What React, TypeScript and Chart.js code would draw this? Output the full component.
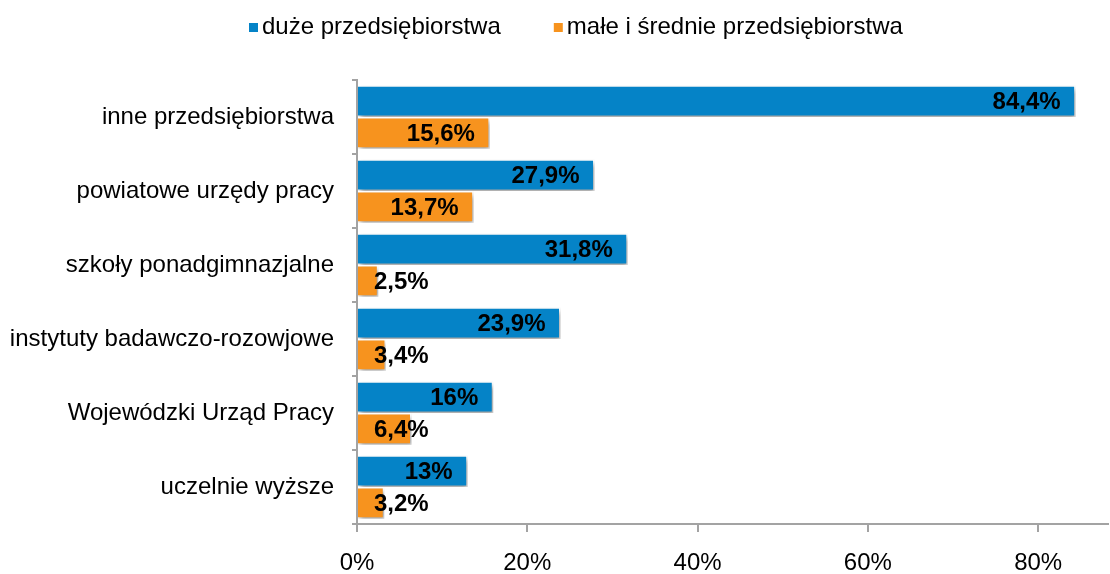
import React, { useEffect, useRef } from 'react';
import { Chart, registerables } from 'chart.js';

Chart.register(...registerables);

const categories = [
  'inne przedsiębiorstwa',
  'powiatowe urzędy pracy',
  'szkoły ponadgimnazjalne',
  'instytuty badawczo-rozowjowe',
  'Wojewódzki Urząd Pracy',
  'uczelnie wyższe',
];
const seriesNames = ['duże przedsiębiorstwa', 'małe i średnie przedsiębiorstwa'];
const largeValues = [84.4, 27.9, 31.8, 23.9, 16, 13];
const smeValues = [15.6, 13.7, 2.5, 3.4, 6.4, 3.2];
const xTickValues = [0, 20, 40, 60, 80];
const xMax = 88.2;

const BLUE = '#0583C7';
const ORANGE = '#F7931E';
const AXIS = '#a3a3a3';
const FONT = '"Liberation Sans", Arial, sans-serif';

const fmt = (v: number) => String(v).replace('.', ',') + '%';

const effectsPlugin = {
  id: 'effects',
  beforeDatasetsDraw(chart: any) {
    const ctx = chart.ctx;
    ctx.save();
    ctx.shadowColor = 'rgba(0,0,0,0.4)';
    ctx.shadowBlur = 5;
    ctx.shadowOffsetX = 2;
    ctx.shadowOffsetY = 3;
  },
  afterDatasetsDraw(chart: any) {
    const ctx = chart.ctx;
    ctx.restore();
    ctx.save();
    ctx.font = `bold 24px ${FONT}`;
    ctx.fillStyle = '#000';
    ctx.textBaseline = 'middle';
    chart.data.datasets.forEach((ds: any, di: number) => {
      const meta = chart.getDatasetMeta(di);
      meta.data.forEach((bar: any, i: number) => {
        const text = fmt(ds.data[i]);
        const w = ctx.measureText(text).width;
        const len = bar.x - bar.base;
        if (w + 30 <= len) {
          ctx.textAlign = 'right';
          ctx.fillText(text, bar.x - 15, bar.y + 1);
        } else {
          ctx.textAlign = 'left';
          ctx.fillText(text, bar.base + 16, bar.y + 1);
        }
      });
    });
    ctx.restore();
  },
  afterDraw(chart: any) {
    const ctx = chart.ctx;
    ctx.save();
    ctx.font = `24px ${FONT}`;
    ctx.fillStyle = '#000';
    ctx.textBaseline = 'middle';
    ctx.textAlign = 'left';
    const colors = [BLUE, ORANGE];
    let x = 249;
    const cy = 27;
    seriesNames.forEach((name, i) => {
      ctx.fillStyle = colors[i];
      ctx.fillRect(x, cy - 4, 9, 9);
      x += 13;
      ctx.fillStyle = '#000';
      ctx.fillText(name, x, cy);
      x += ctx.measureText(name).width + 53;
    });
    ctx.restore();
  },
};

export default function App() {
  const ref = useRef<HTMLCanvasElement>(null);
  useEffect(() => {
    const chart = new Chart(ref.current as HTMLCanvasElement, {
      type: 'bar',
      data: {
        labels: categories,
        datasets: [
          {
            label: seriesNames[0],
            data: largeValues,
            backgroundColor: BLUE,
            borderColor: '#ffffff',
            borderWidth: 1.5,
            categoryPercentage: 0.86,
            barPercentage: 1,
          },
          {
            label: seriesNames[1],
            data: smeValues,
            backgroundColor: ORANGE,
            borderColor: '#ffffff',
            borderWidth: 1.5,
            categoryPercentage: 0.86,
            barPercentage: 1,
          },
        ],
      },
      options: {
        indexAxis: 'y',
        responsive: false,
        animation: false,
        layout: { padding: { top: 80, right: 2, left: 0, bottom: 0 } },
        plugins: {
          legend: { display: false },
          tooltip: { enabled: false },
        },
        scales: {
          x: {
            min: 0,
            max: xMax,
            afterBuildTicks: (s: any) => {
              s.ticks = xTickValues.map((v) => ({ value: v }));
            },
            afterFit: (s: any) => {
              s.height = 50;
            },
            grid: { drawOnChartArea: false, drawTicks: true, tickLength: 8, color: AXIS, lineWidth: 2 },
            border: { color: AXIS, width: 2 },
            ticks: {
              callback: (v: any) => v + '%',
              font: { family: FONT, size: 24 },
              color: '#000',
              padding: 17,
              maxRotation: 0,
              autoSkip: false,
            },
          },
          y: {
            afterFit: (s: any) => {
              s.width = 357;
            },
            grid: { drawOnChartArea: false, drawTicks: true, tickLength: 5, color: AXIS, lineWidth: 2, offset: true },
            border: { color: AXIS, width: 2 },
            ticks: {
              font: { family: FONT, size: 24 },
              color: '#000',
              padding: 18,
            },
          },
        },
      },
      plugins: [effectsPlugin],
    } as any);
    return () => chart.destroy();
  }, []);
  return (
    <div style={{ position: 'fixed', left: 0, top: 0, width: 1110, height: 574, background: '#fff' }}>
      <canvas ref={ref} width={1110} height={574} style={{ display: 'block' }} />
    </div>
  );
}
